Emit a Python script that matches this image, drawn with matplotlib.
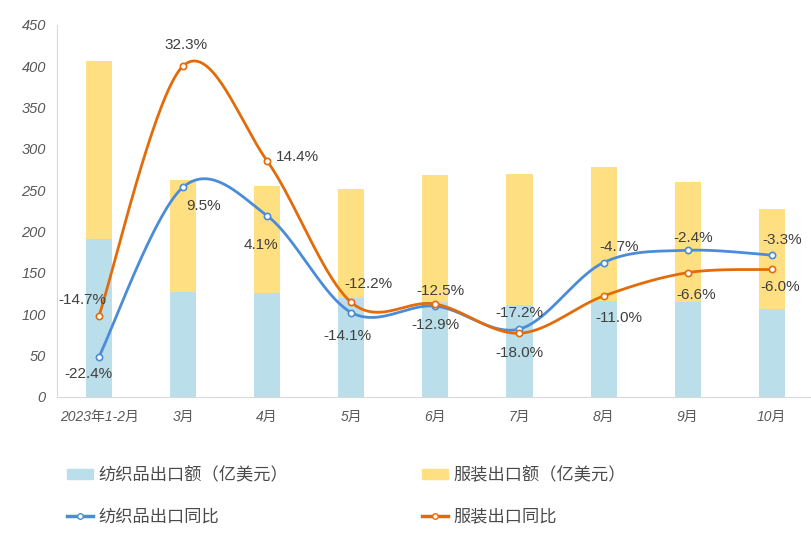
import numpy as np
import matplotlib
matplotlib.use("Agg")
import matplotlib.pyplot as plt
from matplotlib.lines import Line2D
from matplotlib.patches import Patch

plt.rcParams['font.family'] = ['Liberation Sans', 'Noto Sans CJK SC', 'DejaVu Sans']

categories = ['2023年1-2月', '3月', '4月', '5月', '6月', '7月', '8月', '9月', '10月']
textile_export = [191, 127, 126, 120, 115, 111, 116, 115, 106]
total_export = [406, 262, 255, 252, 268, 270, 278, 260, 228]
apparel_export = [t - a for t, a in zip(total_export, textile_export)]
textile_yoy = [-22.4, 9.5, 4.1, -14.1, -12.9, -17.2, -4.7, -2.4, -3.3]
apparel_yoy = [-14.7, 32.3, 14.4, -12.2, -12.5, -18.0, -11.0, -6.6, -6.0]

# label offsets in pixels (dx, dy up-positive)
textile_off = [(-11, -17), (20, -19), (-6, -29), (-4, -23), (0, -19), (0, 16), (16, 16), (6, 12), (10, 15)]
apparel_off = [(-17, 16), (3, 21), (30, 4), (17, 18), (5, 13), (0, -20), (15, -22), (9, -22), (8, -18)]

C_TEX_BAR = '#BADFEA'
C_APP_BAR = '#FEE083'
C_TEX_LINE = '#4A8CD8'
C_APP_LINE = '#E36C0A'
C_TEXT = '#404040'
C_TICK = '#595959'


def catmull_rom(xs, ys, n=40):
    xs = np.asarray(xs, float); ys = np.asarray(ys, float)
    P = np.column_stack([xs, ys])
    P = np.vstack([P[0], P, P[-1]])
    out = []
    t = np.linspace(0, 1, n)
    for i in range(1, len(P) - 2):
        p0, p1, p2, p3 = P[i - 1], P[i], P[i + 1], P[i + 2]
        c1 = p1 + (p2 - p0) / 6.0
        c2 = p2 - (p3 - p1) / 6.0
        seg = ((1 - t) ** 3)[:, None] * p1 + (3 * (1 - t) ** 2 * t)[:, None] * c1 \
            + (3 * (1 - t) * t ** 2)[:, None] * c2 + (t ** 3)[:, None] * p2
        out.append(seg if i == 1 else seg[1:])
    S = np.vstack(out)
    return S[:, 0], S[:, 1]


fig = plt.figure(figsize=(8.11, 5.39), dpi=100)
ax = fig.add_axes([57 / 811, 1 - 397 / 539, 1 - 57 / 811, (397 - 25) / 539])
x = np.arange(len(categories))
bw = 0.31
ax.bar(x, textile_export, bw, color=C_TEX_BAR, zorder=1)
ax.bar(x, apparel_export, bw, bottom=textile_export, color=C_APP_BAR, zorder=1)
ax.set_xlim(-0.5, 8.467)
ax.set_ylim(0, 450)
ax.set_yticks(range(0, 451, 50))
ax.set_xticks(x)
ax.set_xticklabels(categories, fontstyle='italic', color=C_TICK, fontsize=10,
                   family=['Liberation Sans Narrow', 'Liberation Sans', 'Noto Sans CJK SC'])
for lab in ax.get_yticklabels():
    lab.set_fontstyle('italic')
    lab.set_color(C_TICK)
    lab.set_fontsize(10.5)
ax.tick_params(axis='both', length=0)
ax.tick_params(axis='y', pad=8)
ax.tick_params(axis='x', pad=9)
for s in ['top', 'right']:
    ax.spines[s].set_visible(False)
ax.spines['left'].set_color('#D9D9D9')
ax.spines['bottom'].set_color('#D9D9D9')

ax2 = ax.twinx()
ax2.set_ylim(-30, 40)
ax2.axis('off')

for vals, col, offs in [(textile_yoy, C_TEX_LINE, textile_off), (apparel_yoy, C_APP_LINE, apparel_off)]:
    sx, sy = catmull_rom(x, vals)
    ax2.plot(sx, sy, color=col, lw=2.0, zorder=3, solid_capstyle='round')
    ax2.plot(x, vals, ls='none', marker='o', ms=4.5, mfc='white', mec=col, mew=1.2, zorder=4)
    for xi, v, (dx, dy) in zip(x, vals, offs):
        ax2.annotate(f'{v:.1f}%', (xi, v), xytext=(dx, dy), textcoords='offset pixels',
                     ha='center', va='center', fontsize=11, color=C_TEXT, zorder=5)

handles = [Patch(color=C_TEX_BAR),
           Line2D([], [], color=C_TEX_LINE, lw=2.5, marker='o', ms=4, mfc='white', mec=C_TEX_LINE),
           Patch(color=C_APP_BAR),
           Line2D([], [], color=C_APP_LINE, lw=2.5, marker='o', ms=4, mfc='white', mec=C_APP_LINE)]
labels = ['纺织品出口额（亿美元）', '纺织品出口同比', '服装出口额（亿美元）', '服装出口同比']
leg = fig.legend(handles, labels, ncol=2, loc='upper left', bbox_to_anchor=(67 / 811, 1 - 466 / 539),
                 frameon=False, handlelength=1.5, handleheight=0.55, handletextpad=0.3,
                 columnspacing=7.8, labelspacing=1.35, borderaxespad=0, borderpad=0,
                 prop={'family': ['Noto Sans CJK SC', 'DejaVu Sans'], 'size': 12.4})
for t in leg.get_texts():
    t.set_color('#4a4a4a')

fig.savefig('out.png', dpi=100)
